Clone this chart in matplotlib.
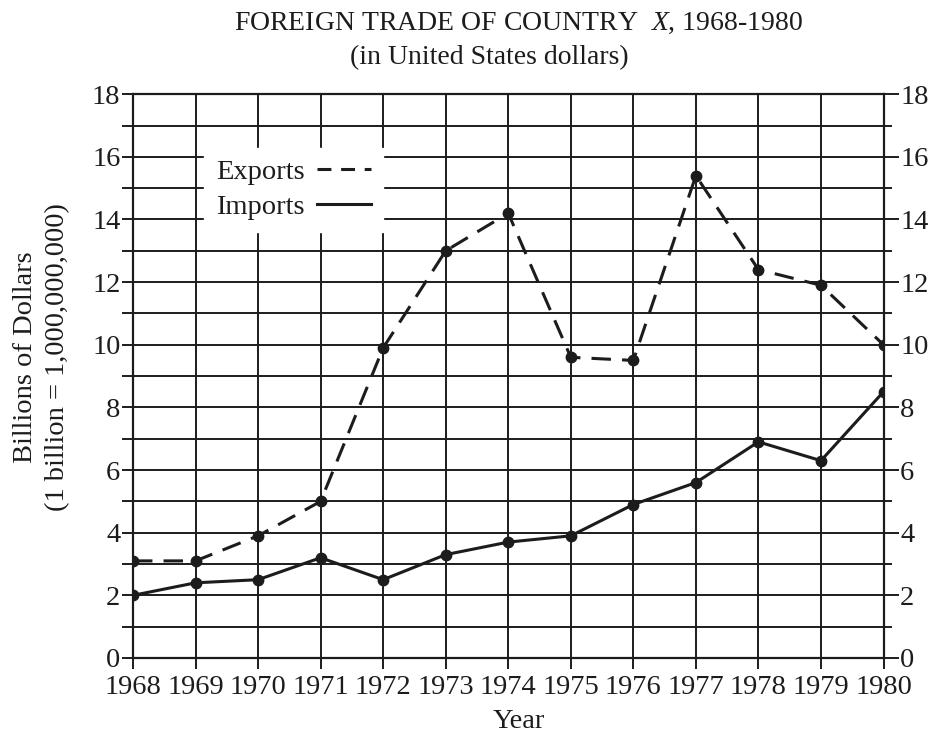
import matplotlib
matplotlib.use("Agg")
import matplotlib.pyplot as plt
from matplotlib.lines import Line2D
from matplotlib.ticker import MultipleLocator

plt.rcParams['font.family'] = ['Liberation Serif', 'DejaVu Serif']
plt.rcParams['mathtext.fontset'] = 'custom'
plt.rcParams['mathtext.rm'] = 'Liberation Serif'
plt.rcParams['mathtext.it'] = 'Liberation Serif:italic'
plt.rcParams['lines.scale_dashes'] = False

INK = '#1c1c1c'
FS = 20.5

# Foreign trade, billions of US dollars
years = [1968, 1969, 1970, 1971, 1972, 1973, 1974, 1975, 1976, 1977, 1978, 1979, 1980]
exports = [3.1, 3.1, 3.9, 5.0, 9.9, 13.0, 14.2, 9.6, 9.5, 15.4, 12.4, 11.9, 10.0]
imports = [2.0, 2.4, 2.5, 3.2, 2.5, 3.3, 3.7, 3.9, 4.9, 5.6, 6.9, 6.3, 8.5]

fig = plt.figure(figsize=(9.3, 7.36), dpi=100)
ax = fig.add_axes([0.143, 0.106, 0.807, 0.766])

ax.plot(years, exports, color=INK, lw=2.2, dashes=(14, 8),
        marker='o', ms=7.5, mfc=INK, mec=INK)
ax.plot(years, imports, color=INK, lw=2.2,
        marker='o', ms=7.5, mfc=INK, mec=INK)

ax.set_xlim(1968, 1980)
ax.set_ylim(0, 18)
ax.set_xticks(years)
ax.set_xticklabels([str(y) for y in years])
ax.yaxis.set_major_locator(MultipleLocator(2))
ax.yaxis.set_minor_locator(MultipleLocator(1))
ax.grid(True, which='both', color=INK, lw=1.4)
ax.set_axisbelow(True)
ax.tick_params(which='both', direction='out', length=8, width=1.4, color=INK,
               labelsize=FS, labelcolor=INK, pad=1)
ax.tick_params(axis='x', pad=4)
for s in ax.spines.values():
    s.set_color(INK)
    s.set_linewidth(1.6)

# mirrored scale on the right
ax2 = ax.twinx()
ax2.set_ylim(0, 18)
ax2.yaxis.set_major_locator(MultipleLocator(2))
ax2.yaxis.set_minor_locator(MultipleLocator(1))
ax2.tick_params(which='major', direction='out', length=11, width=1.4, color=INK,
                labelsize=FS, labelcolor=INK, pad=1)
ax2.tick_params(which='minor', direction='out', length=6, width=1.4, color=INK)
for s in ax2.spines.values():
    s.set_visible(False)

handles = [Line2D([], [], color=INK, lw=2.2, dashes=(10, 7)),
           Line2D([], [], color=INK, lw=2.2)]
leg = ax.legend(handles, ['Exports', 'Imports'], loc='upper left',
                bbox_to_anchor=(0.095, 0.905), markerfirst=False,
                fontsize=FS, handlelength=1.9, handletextpad=0.45,
                labelspacing=0.32, borderpad=0.4, borderaxespad=0,
                fancybox=False, framealpha=1, facecolor='white',
                edgecolor='white')
for t in leg.get_texts():
    t.set_color(INK)

fig.text(0.557, 0.968, 'FOREIGN TRADE OF COUNTRY  $X$, 1968-1980',
         ha='center', va='center', fontsize=20, color=INK)
fig.text(0.526, 0.922, '(in United States dollars)',
         ha='center', va='center', fontsize=20, color=INK)
fig.text(0.558, 0.02, 'Year', ha='center', va='center', fontsize=FS, color=INK)
fig.text(0.027, 0.515, 'Billions of Dollars', rotation=90,
         ha='center', va='center', fontsize=FS, color=INK)
fig.text(0.062, 0.515, '(1 billion = 1,000,000,000)', rotation=90,
         ha='center', va='center', fontsize=FS, color=INK)

fig.savefig('out.png', dpi=100, facecolor='white')
